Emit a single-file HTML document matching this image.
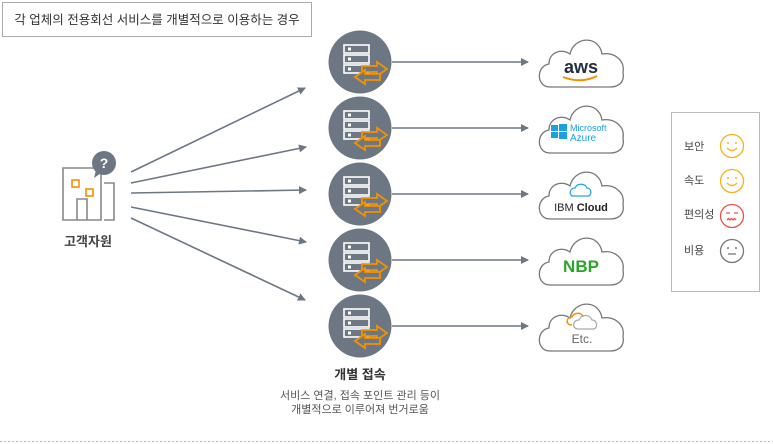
<!DOCTYPE html>
<html><head><meta charset="utf-8"><style>
body{margin:0;background:#fff}
svg{display:block}
text{font-family:"Liberation Sans","Noto Sans CJK KR",sans-serif}
</style></head><body>
<svg width="773" height="444" viewBox="0 0 773 444" xmlns="http://www.w3.org/2000/svg">
<defs>
<g id="srv">
<circle cx="0" cy="0" r="31.5" fill="#6d7783"/>
<g fill="none" stroke="#fff" stroke-width="1.6">
<rect x="-16" y="-17" width="25" height="8"/>
<rect x="-16" y="-7" width="25" height="8"/>
<rect x="-16" y="3" width="25" height="8"/>
</g>
<g fill="#fff"><rect x="-12" y="-14.5" width="3" height="3"/><rect x="-12" y="-4.5" width="3" height="3"/><rect x="-12" y="5.5" width="3" height="3"/></g>
<g fill="none" stroke="#f39200" stroke-width="1.8" stroke-linejoin="miter">
<path d="M2 4 L17 4 L17 0 L27 7 L17 14 L17 10 L2 10 Z" fill="#6d7783"/>
<path d="M20 12 L5 12 L5 8 L-5 15 L5 22 L5 18 L20 18 Z" fill="#6d7783"/>
</g>
</g>
<path id="cloud" d="M-30 29 C-44 29 -44 8 -31 6 C-31 -6 -18 -10 -10 -4 C-6 -22 19 -23 22 -4 C34 -6 45 2 43 14 C45 25 38 29 30 29 Z" fill="#fff" stroke="#777" stroke-width="1.3"/>
<marker id="ah" markerWidth="8" markerHeight="8" refX="7" refY="4" orient="auto" markerUnits="userSpaceOnUse"><path d="M0 0 L8 4 L0 8 Z" fill="#6d7783"/></marker>
</defs>

<rect x="2.5" y="2.5" width="309" height="34" fill="#fff" stroke="#aaa"/>
<text x="157" y="24" font-size="12.5" fill="#333" text-anchor="middle">각 업체의 전용회선 서비스를 개별적으로 이용하는 경우</text>

<g fill="none" stroke="#888" stroke-width="1.6">
<path d="M63 220 L63 168 L101 168 L101 220 Z"/>
<path d="M104 183 L114 183 L114 220 L104 220"/>
<path d="M77 220 L77 199 L87 199 L87 220"/>
</g>
<g fill="none" stroke="#f39200" stroke-width="1.6"><rect x="72" y="180" width="7" height="7"/><rect x="86" y="189" width="7" height="7"/></g>
<circle cx="104" cy="163" r="12" fill="#6d7783"/>
<path d="M96 170 L94 178 L101 173 Z" fill="#6d7783"/>
<text x="104" y="168" font-size="14" font-weight="bold" fill="#fff" text-anchor="middle">?</text>
<text x="88" y="246" font-size="13" font-weight="bold" fill="#444" text-anchor="middle">고객자원</text>

<g stroke="#6d7783" stroke-width="1.6" marker-end="url(#ah)">
<line x1="131" y1="172" x2="305" y2="88"/>
<line x1="131" y1="183" x2="306" y2="147"/>
<line x1="131" y1="193" x2="306" y2="190"/>
<line x1="131" y1="207" x2="306" y2="242"/>
<line x1="131" y1="218" x2="305" y2="300"/>
<line x1="392" y1="62" x2="528" y2="62"/>
<line x1="392" y1="128" x2="528" y2="128"/>
<line x1="392" y1="194" x2="528" y2="194"/>
<line x1="392" y1="260" x2="528" y2="260"/>
<line x1="392" y1="326" x2="528" y2="326"/>
</g>

<use href="#srv" x="360" y="62"/>
<use href="#srv" x="360" y="128"/>
<use href="#srv" x="360" y="194"/>
<use href="#srv" x="360" y="260"/>
<use href="#srv" x="360" y="326"/>

<use href="#cloud" x="580" y="58"/>
<use href="#cloud" x="580" y="124"/>
<use href="#cloud" x="580" y="190"/>
<use href="#cloud" x="580" y="256"/>
<use href="#cloud" x="580" y="322"/>

<text x="581" y="73" font-size="18" font-weight="bold" fill="#232f3e" text-anchor="middle">aws</text>
<path d="M563 77 Q581 84 597 76" fill="none" stroke="#f39200" stroke-width="2"/>
<g fill="#1ba1e2"><rect x="551" y="125" width="7" height="6"/><rect x="559" y="124" width="8" height="7"/><rect x="551" y="132" width="7" height="6"/><rect x="559" y="132" width="8" height="7"/></g>
<text x="570" y="131" font-size="9" fill="#1ba1e2">Microsoft</text>
<text x="570" y="141" font-size="10" fill="#1ba1e2">Azure</text>
<path d="M573 196 C569 196 569 188 575 188 C577 183 585 183 587 188 C592 188 592 196 588 196 Z" fill="none" stroke="#29a3e0" stroke-width="1.3"/>
<text x="581" y="211" font-size="11" fill="#222" text-anchor="middle">IBM <tspan font-weight="bold">Cloud</tspan></text>
<text x="581" y="272" font-size="17" font-weight="bold" fill="#2aa52a" text-anchor="middle">NBP</text>
<path d="M572 325 C565 325 566 317 572 317 C574 312 582 312 583 317" fill="none" stroke="#f39200" stroke-width="1.5"/>
<path d="M578 329 C572 329 572 320 579 320 C581 314 590 314 592 320 C598 320 598 329 593 329 Z" fill="none" stroke="#aaa" stroke-width="1.3"/>
<text x="582" y="343" font-size="12" fill="#666" text-anchor="middle">Etc.</text>

<text x="360" y="379" font-size="13" font-weight="bold" fill="#333" text-anchor="middle">개별 접속</text>
<text x="360" y="399" font-size="11" fill="#555" text-anchor="middle">서비스 연결, 접속 포인트 관리 등이</text>
<text x="360" y="413" font-size="11" fill="#555" text-anchor="middle">개별적으로 이루어져 번거로움</text>

<line x1="0" y1="441.5" x2="773" y2="441.5" stroke="#bbb" stroke-dasharray="2,2"/>

<rect x="671.5" y="112.5" width="88" height="179" fill="#fff" stroke="#bbb"/>
<g font-size="11" fill="#444">
<text x="684" y="150">보안</text><text x="684" y="184">속도</text><text x="684" y="218">편의성</text><text x="684" y="254">비용</text>
</g>
<g fill="none" stroke-width="1.3">
<circle cx="732" cy="146" r="11.5" stroke="#f5b21d"/><path d="M727 148 Q732 153 737 148" stroke="#f5b21d"/>
<circle cx="732" cy="181" r="11.5" stroke="#f5b21d"/><path d="M727 183 Q732 188 737 183" stroke="#f5b21d"/>
<circle cx="732" cy="216" r="11.5" stroke="#e5534b"/><path d="M727 220 l1.5 -1.5 l1.5 1.5 l1.5 -1.5 l1.5 1.5 l1.5 -1.5 l1.5 1.5" stroke="#e5534b"/>
<circle cx="732" cy="251" r="11.5" stroke="#777"/><path d="M728 254 L736 254" stroke="#777"/>
</g>
<g fill="#f5b21d"><circle cx="728" cy="143" r="1"/><circle cx="736" cy="143" r="1"/><circle cx="728" cy="178" r="1"/><circle cx="736" cy="178" r="1"/></g>
<g stroke="#e5534b" stroke-width="1.2"><line x1="726" y1="213" x2="730" y2="213"/><line x1="734" y1="213" x2="738" y2="213"/></g>
<g fill="#777"><circle cx="728" cy="248" r="1"/><circle cx="736" cy="248" r="1"/></g>
</svg>
</body></html>
